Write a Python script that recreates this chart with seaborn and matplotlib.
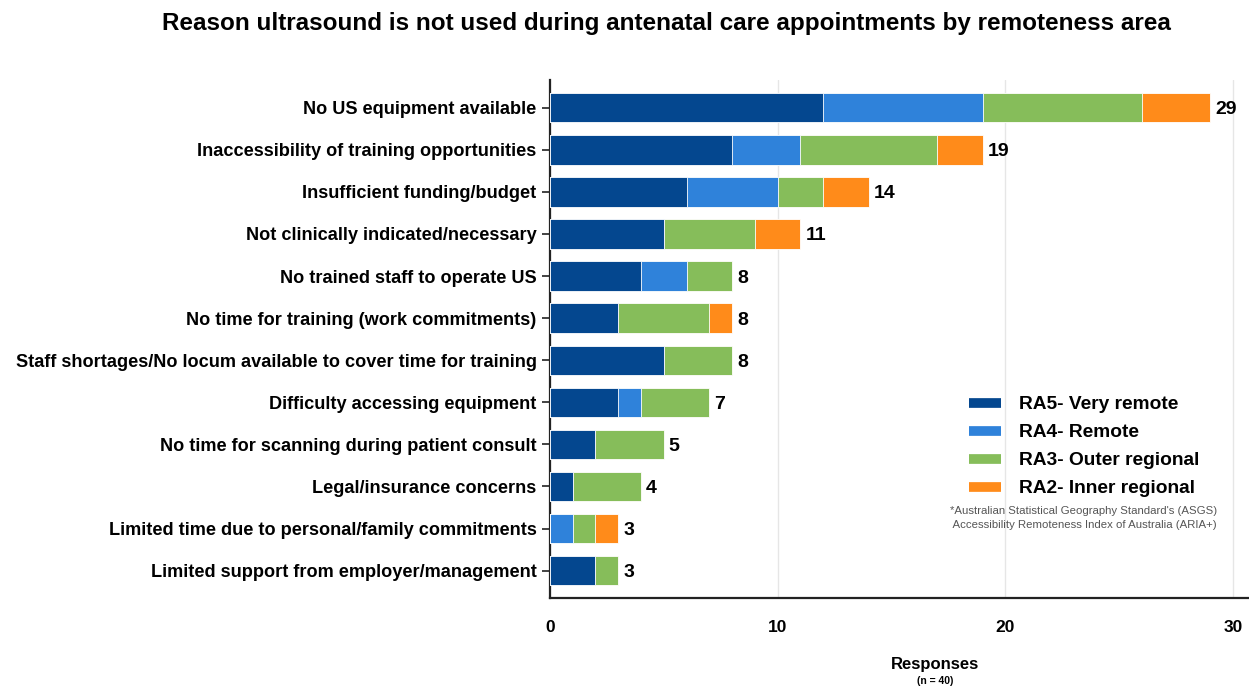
import numpy as np
import pandas as pd
import matplotlib
matplotlib.use("Agg")
import matplotlib.pyplot as plt
from matplotlib.lines import Line2D
import seaborn as sns

sns.set_theme(style="white")
plt.rcParams["font.family"] = ["Liberation Sans", "DejaVu Sans"]
plt.rcParams["text.color"] = "black"
plt.rcParams["xtick.color"] = "black"
plt.rcParams["ytick.color"] = "black"

reasons = [
    "No US equipment available",
    "Inaccessibility of training opportunities",
    "Insufficient funding/budget",
    "Not clinically indicated/necessary",
    "No trained staff to operate US",
    "No time for training (work commitments)",
    "Staff shortages/No locum available to cover time for training",
    "Difficulty accessing equipment",
    "No time for scanning during patient consult",
    "Legal/insurance concerns",
    "Limited time due to personal/family commitments",
    "Limited support from employer/management",
]
ra5 = [12, 8, 6, 5, 4, 3, 5, 3, 2, 1, 0, 2]
ra4 = [7, 3, 4, 0, 2, 0, 0, 1, 0, 0, 1, 0]
ra3 = [7, 6, 2, 4, 2, 4, 3, 3, 3, 3, 1, 1]
ra2 = [3, 2, 2, 2, 0, 1, 0, 0, 0, 0, 1, 0]

series_names = ["RA5- Very remote", "RA4- Remote", "RA3- Outer regional", "RA2- Inner regional"]
colors = ["#04478F", "#2F82DA", "#86BD5A", "#FF8B1A"]

df = pd.DataFrame({"reason": reasons, "RA5": ra5, "RA4": ra4, "RA3": ra3, "RA2": ra2})
cols = ["RA5", "RA4", "RA3", "RA2"]
cum = df[cols].cumsum(axis=1)
totals = cum["RA2"].to_numpy()

fig = plt.figure(figsize=(12.49, 6.86), dpi=100)
ax = fig.add_axes([0.4403, 0.1283, 0.5597, 0.7551])

# Stacked bars: draw cumulative totals from the outermost segment inward
for col, color in zip(cols[::-1], colors[::-1]):
    sns.barplot(data=cum.assign(reason=df["reason"]), x=col, y="reason", orient="h",
                color=color, width=0.7, edgecolor="white", linewidth=0.6,
                saturation=1, ax=ax, zorder=3)

for i, t in enumerate(totals):
    ax.text(t + 0.22, i, f"{t}", va="center_baseline", ha="left", fontsize=14,
            fontweight="bold", color="black")

ax.set_xlim(0, 30.7)
ax.set_ylim(11.65, -0.66)
ax.set_xticks([0, 10, 20, 30])
ax.set_xticklabels(["0", "10", "20", "30"], fontsize=12.5, fontweight="bold")
ax.tick_params(axis="x", length=0, pad=16)
ax.tick_params(axis="y", length=6, width=1.2, color="#222222", left=True, labelsize=13.1)
for lbl in ax.get_yticklabels():
    lbl.set_fontweight("bold")
ax.grid(axis="x", color="#e6e6e6", linewidth=1, zorder=0)
ax.set_axisbelow(True)
for s in ["top", "right"]:
    ax.spines[s].set_visible(False)
for s in ["left", "bottom"]:
    ax.spines[s].set_color("#222222")
    ax.spines[s].set_linewidth(1.6)
ax.set_ylabel("")
ax.set_xlabel("")

fig.text(0.5335, 0.966, "Reason ultrasound is not used during antenatal care appointments by remoteness area",
         ha="center", va="center", fontsize=17.5, fontweight="bold")
fig.text(0.7485, 0.032, "Responses", ha="center", va="center", fontsize=12, fontweight="bold")
fig.text(0.7485, 0.007, "(n = 40)", ha="center", va="center", fontsize=7.5, fontweight="bold")

handles = [Line2D([0], [0], color=c, lw=7, solid_capstyle="butt") for c in colors]
leg = fig.legend(handles, series_names, loc="upper left", bbox_to_anchor=(0.7695, 0.434),
                 frameon=False, prop={"weight": "bold", "size": 13.8}, handlelength=1.67,
                 handletextpad=0.95, labelspacing=0.55, borderaxespad=0)

fig.text(0.8675, 0.245, "*Australian Statistical Geography Standard's (ASGS)\n Accessibility Remoteness Index of Australia (ARIA+)",
         ha="center", va="center", fontsize=8.2, color="#555555", linespacing=1.55)

fig.savefig("out.png", dpi=100)
